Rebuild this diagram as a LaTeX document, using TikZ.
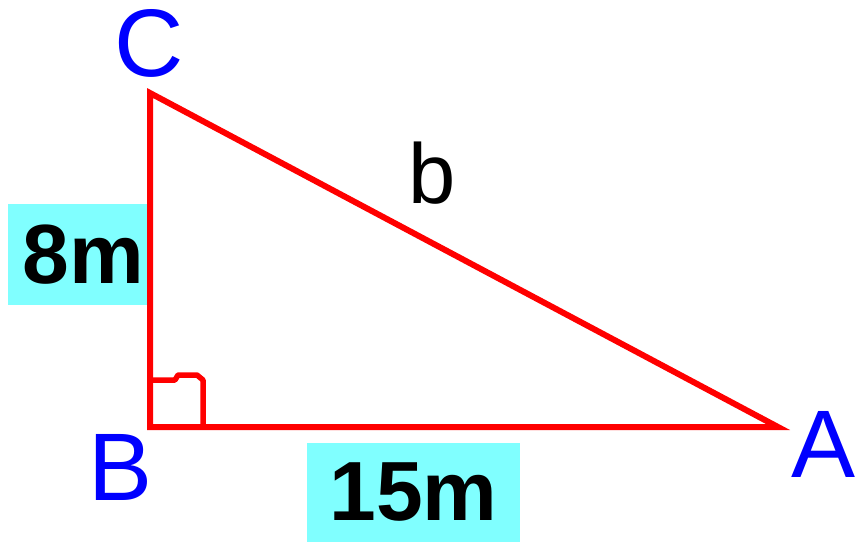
\documentclass[tikz,border=0pt]{standalone}
\usepackage{fontspec}
\setmainfont{Liberation Sans}
\usetikzlibrary{positioning}
\definecolor{boxcyan}{RGB}{128,255,255}
\definecolor{pointblue}{RGB}{0,0,255}
\begin{document}
\begin{tikzpicture}[
    x=1pt, y=-1pt,
    side/.style={draw=red, line width=6pt},
    corner/.style={text=pointblue, inner sep=0pt, anchor=base, font=\fontsize{96}{96}\selectfont},
    length/.style={fill=boxcyan, inner sep=0pt, font=\bfseries\fontsize{84}{84}\selectfont},
    letter/.style={inner sep=0pt, anchor=base, font=\fontsize{85}{85}\selectfont}
]
    \useasboundingbox (0,0) rectangle (857,542);

    % Hjørnene i trekanten
    \coordinate (C) at (150,93);
    \coordinate (B) at (150,427);
    \coordinate (A) at (778,427);

    % Lengdene på katetene
    \node [length, minimum width=139pt, minimum height=101pt] (lenBC) at (77.5,254.5) {\hspace{11pt}8m};
    \node [length, minimum width=213pt, minimum height=99pt] (lenBA) at (413.5,492.5) {15m\hspace{13pt}};

    % Trekanten og den rette vinkelen
    \draw [side] (C) -- (B) -- (A) -- cycle;
    \draw [side, line width=5.5pt, line join=round] (150,380) -- (175,380) -- (178,375) -- (197,375) -- (203,380) -- (203,427);

    % Navn på hjørner og hypotenus
    \node [corner] (nameC) at (149,76) {C};
    \node [corner] (nameB) at (121,500) {B};
    \node [corner] (nameA) at (824,477) {A};
    \node [letter] (nameb) at (432,203) {b};

\end{tikzpicture}
\end{document}
